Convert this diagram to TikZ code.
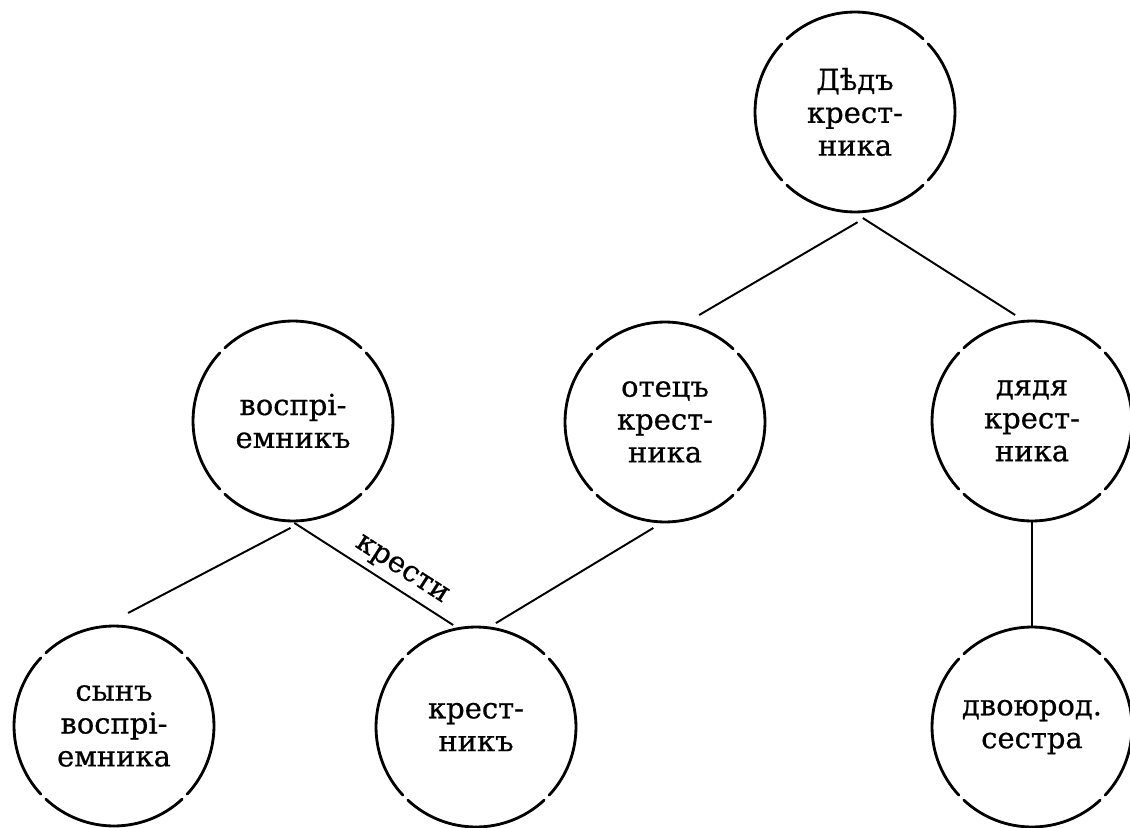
\documentclass[tikz,border=0pt]{standalone}
\usepackage{fontspec}
\setmainfont{DejaVu Serif}[FakeBold=0.6]
\begin{document}
\begin{tikzpicture}[x=0.02cm,y=-0.02cm,
  person/.style={circle, draw=none, minimum size=4cm, inner sep=0pt, outer sep=0pt,
    align=center, font=\fontsize{16.5}{18.7}\selectfont},
  ring/.style={line width=1.6pt, line cap=round},
  edge/.style={line width=1.1pt},
  lbl/.style={font=\fontsize{16.5}{18.7}\selectfont, sloped, above}]
\useasboundingbox[fill=white] (0,0) rectangle (1130,828);

\node[person] (ded)    at (855,112) {Дѣдъ\\крест-\\ника};
\node[person] (vospr)  at (293,421) {воспрі-\\емникъ};
\node[person] (otec)   at (665,422) {отецъ\\крест-\\ника};
\node[person] (dyadya) at (1032,421) {дядя\\крест-\\ника};
\node[person] (syn)    at (114,726) {сынъ\\воспрі-\\емника};
\node[person] (krest)  at (476,727) {крест-\\никъ};
\node[person] (sestra) at (1032,727) {двоюрод.\\сестра};

\foreach \n in {ded,vospr,otec,dyadya,syn,krest,sestra}{
  \foreach \a in {47,137,227,317}{
    \draw[ring] (\n.\a) arc[start angle=\a, delta angle=86, radius=2cm];
  }
}

\draw[edge, shorten <=0.54cm, shorten >=0.35cm] (ded.-75) -- (otec.79);
\draw[edge, shorten <=0.226cm, shorten >=0.234cm] (ded.-91) -- (dyadya.94);
\draw[edge, shorten <=0.33cm, shorten >=0.594cm] (vospr.-83) -- (syn.97);
\draw[edge, shorten <=0.072cm, shorten >=0.13cm] (vospr.-91) -- node[lbl, pos=0.6] (lk) {крести} (krest.100);
\draw[edge, shorten <=0.232cm, shorten >=0.18cm] (otec.-91) -- (krest.83);
\draw[edge] (dyadya.south) -- (sestra.north);
\end{tikzpicture}
\end{document}
